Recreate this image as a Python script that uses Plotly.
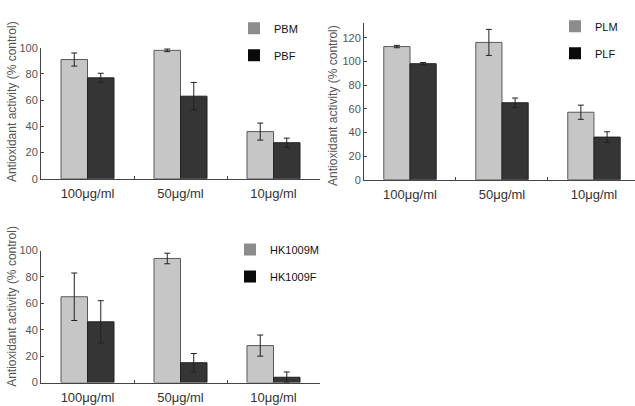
import plotly.graph_objects as go

categories = ["100μg/ml", "50μg/ml", "10μg/ml"]

pbm = [91, 98, 36]
pbm_err = [5, 1, 6.5]
pbf = [77, 63, 27.5]
pbf_err = [3.5, 10.5, 3.5]

plm = [112.5, 116, 57]
plm_err = [1, 11, 6]
plf = [98, 65, 36]
plf_err = [1, 4, 4.5]

hkm = [65, 94, 28]
hkm_err = [18, 4, 8]
hkf = [46, 15, 4]
hkf_err = [16, 7, 4]

panels = [
    ("PBM", pbm, pbm_err, "PBF", pbf, pbf_err),
    ("PLM", plm, plm_err, "PLF", plf, plf_err),
    ("HK1009M", hkm, hkm_err, "HK1009F", hkf, hkf_err),
]

W, H = 635, 406
LIGHT = "#c6c6c6"
DARK = "#353535"
LEG_M = "#8c8c8c"
LEG_F = "#0a0a0a"
FONT = "Liberation Sans, Arial, sans-serif"

# pixel geometry of each panel: (left, right, top, bottom, ymax, xmax)
geom = [
    (41, 320, 43, 178, 100, 2.5),
    (364, 635, 18, 179, 132, 2.446),
    (41, 320, 252, 388, 100, 2.5),
]
legend_pos = [(248, 8), (569, 6), (244, 236)]
title_pos = [(12, 99), (333, 103), (12, 310)]

fig = go.Figure()
layout = {}
for i, (mname, mv, me, fname, fv, fe) in enumerate(panels):
    n = "" if i == 0 else str(i + 1)
    xa, ya = "x" + n, "y" + n
    for name, vals, errs, col, lcol, og in ((mname, mv, me, LIGHT, "#5a5a5a", "m"),
                                            (fname, fv, fe, DARK, "#222222", "f")):
        fig.add_trace(go.Bar(
            x=categories, y=vals, name=name, xaxis=xa, yaxis=ya,
            offsetgroup=og,
            marker=dict(color=col, line=dict(color=lcol, width=1)),
            error_y=dict(type="data", array=errs, visible=True,
                         color="#222222", thickness=1, width=3),
            showlegend=False,
        ))
    leg = "legend" + n
    for name, col, og in ((mname, LEG_M, "m"), (fname, LEG_F, "f")):
        fig.add_trace(go.Bar(
            x=[None], y=[None], name=name, xaxis=xa, yaxis=ya,
            offsetgroup=og,
            marker=dict(color=col, line=dict(width=0)),
            legend=leg, legendgroup=name, showlegend=True,
        ))
    left, right, top, bottom, ymax, xmax = geom[i]
    layout["xaxis" + n] = dict(
        domain=[left / W, right / W], anchor=ya, type="category",
        range=[-0.5, xmax], showline=True, linecolor="#444", linewidth=1,
        ticks="inside", ticklen=3, tickcolor="#444", tickson="boundaries",
        ticklabelstandoff=3,
        tickfont=dict(size=13, color="#333", family=FONT), showgrid=False,
        zeroline=False, fixedrange=True,
    )
    layout["yaxis" + n] = dict(
        domain=[(H - bottom) / H, (H - top) / H], anchor=xa,
        range=[0, ymax], tickmode="array", tickvals=list(range(0, int(ymax) + 1, 20)),
        showline=True, linecolor="#444", linewidth=1,
        ticks="inside", ticklen=3, tickcolor="#444",
        tickfont=dict(size=11, color="#555", family=FONT), showgrid=False,
        zeroline=False, fixedrange=True,
    )
    lx, ly = legend_pos[i]
    layout[leg] = dict(
        x=(lx - 14) / W, y=(H - ly) / H, xanchor="left", yanchor="top",
        bgcolor="rgba(0,0,0,0)", font=dict(size=11, color="#111", family=FONT),
        traceorder="grouped", tracegroupgap=8,
    )

annotations = []
for (tx, ty) in title_pos:
    annotations.append(dict(
        text="Antioxidant activity (% control)", x=tx / W, y=(H - ty) / H,
        xref="paper", yref="paper", xanchor="center", yanchor="middle",
        textangle=-90, showarrow=False,
        font=dict(size=12, color="#555", family=FONT),
    ))

fig.update_layout(
    width=W, height=H, margin=dict(l=0, r=0, t=0, b=0),
    paper_bgcolor="white", plot_bgcolor="white",
    barmode="group", bargap=0.43, bargroupgap=0,
    annotations=annotations, **layout,
)

fig.write_html("out.html", config={"displayModeBar": False})
